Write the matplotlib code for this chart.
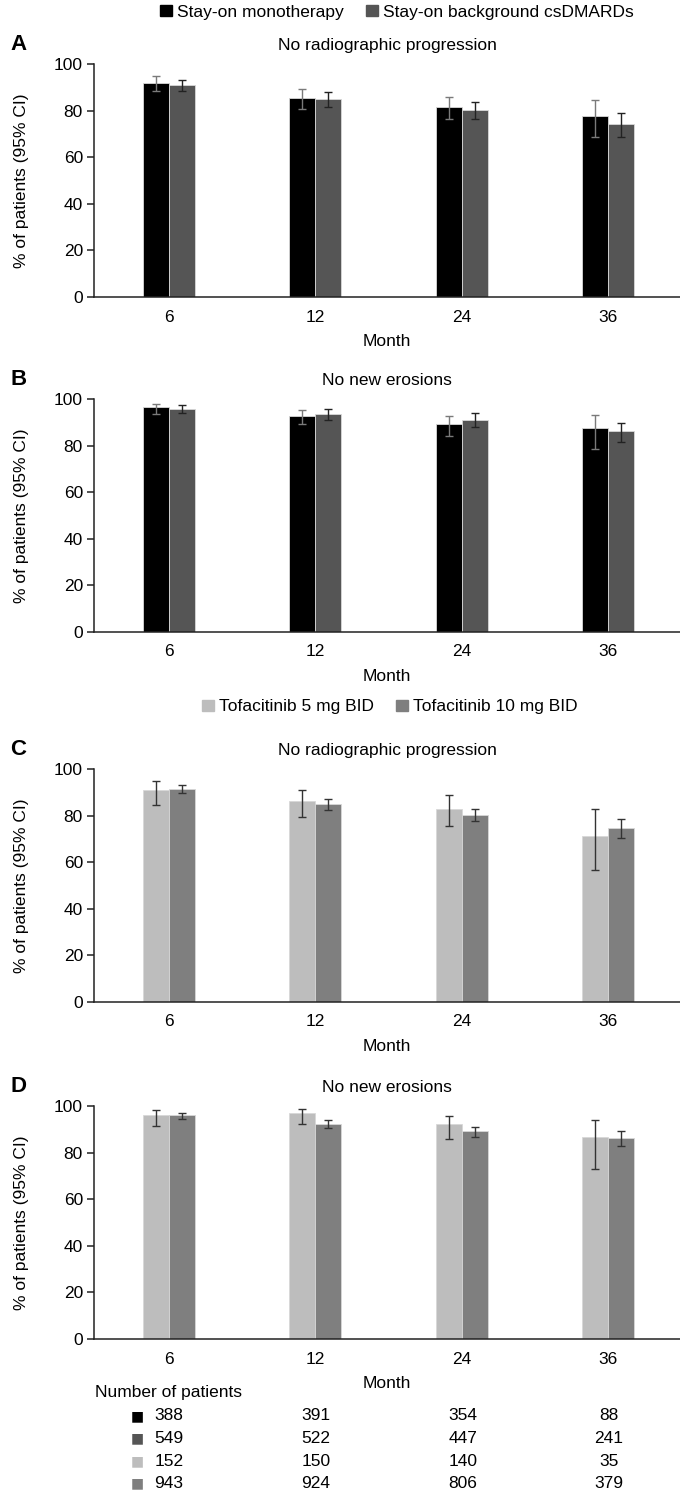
import numpy as np
import matplotlib
matplotlib.use('Agg')
import matplotlib.pyplot as plt
from matplotlib.patches import Patch

plt.rcParams['font.family'] = ['Liberation Sans', 'DejaVu Sans']

months = ['6', '12', '24', '36']

# panel A - no radiographic progression, stay-on groups
a_mono = [91.7, 85.2, 81.5, 77.8]
a_mono_lo = [88.4, 80.7, 76.3, 68.8]
a_mono_hi = [94.8, 89.1, 85.8, 84.5]
a_bg = [91.1, 85.1, 80.1, 74.4]
a_bg_lo = [88.4, 81.4, 76.3, 68.8]
a_bg_hi = [93.3, 88.1, 83.8, 79.1]

# panel B - no new erosions, stay-on groups
b_mono = [96.4, 92.7, 89.1, 87.5]
b_mono_lo = [93.7, 89.1, 84.3, 78.7]
b_mono_hi = [98.0, 95.3, 92.7, 93.0]
b_bg = [95.8, 93.5, 91.1, 86.2]
b_bg_lo = [94.0, 91.1, 88.1, 81.6]
b_bg_hi = [97.4, 95.7, 93.8, 89.8]

# panel C - no radiographic progression, dose groups
c_5 = [90.9, 86.3, 83.0, 71.4]
c_5_lo = [84.7, 79.4, 75.7, 56.5]
c_5_hi = [94.7, 91.2, 88.9, 83.0]
c_10 = [91.4, 84.9, 80.3, 74.7]
c_10_lo = [89.6, 82.3, 77.6, 70.5]
c_10_hi = [93.1, 87.3, 82.9, 78.4]

# panel D - no new erosions, dose groups
d_5 = [96.0, 96.8, 92.1, 86.8]
d_5_lo = [91.5, 92.4, 85.9, 73.1]
d_5_hi = [98.3, 98.8, 95.7, 94.2]
d_10 = [96.0, 92.4, 89.1, 86.2]
d_10_lo = [94.5, 90.5, 86.5, 82.9]
d_10_hi = [97.1, 94.1, 91.2, 89.1]

n_mono = [388, 391, 354, 88]
n_bg = [549, 522, 447, 241]
n_5 = [152, 150, 140, 35]
n_10 = [943, 924, 806, 379]

c_black = '#000000'
c_dark = '#555555'
c_light = '#bdbdbd'
c_mid = '#7f7f7f'

FS = 12.5

W, H = 680, 1490
fig = plt.figure(figsize=(W / 100, H / 100), dpi=100)

def px_axes(left, top, right, bottom):
    return fig.add_axes([left / W, 1 - bottom / H, (right - left) / W, (bottom - top) / H])

x = np.arange(len(months))
bw = 0.178

def panel(ax, letter, title, v1, lo1, hi1, col1, ecol1, v2, lo2, hi2, col2, ecol2):
    e1 = [np.array(v1) - np.array(lo1), np.array(hi1) - np.array(v1)]
    e2 = [np.array(v2) - np.array(lo2), np.array(hi2) - np.array(v2)]
    ax.bar(x - bw / 2, v1, bw, color=col1, edgecolor='#d8d8d8', linewidth=0.6)
    ax.bar(x + bw / 2, v2, bw, color=col2, edgecolor='#d8d8d8', linewidth=0.6)
    ax.errorbar(x - bw / 2, v1, yerr=e1, fmt='none', ecolor=ecol1, elinewidth=1.0,
                capsize=3, capthick=1.0, clip_on=False)
    ax.errorbar(x + bw / 2, v2, yerr=e2, fmt='none', ecolor=ecol2, elinewidth=1.0,
                capsize=3, capthick=1.0, clip_on=False)
    ax.set_xlim(-0.512, 3.49)
    ax.set_ylim(0, 100)
    ax.set_yticks([0, 20, 40, 60, 80, 100])
    ax.set_xticks(x)
    ax.set_xticklabels(months)
    ax.spines['top'].set_visible(False)
    ax.spines['right'].set_visible(False)
    for s in ['left', 'bottom']:
        ax.spines[s].set_linewidth(1.1)
        ax.spines[s].set_color('#222222')
    ax.tick_params(axis='y', length=5, width=1.1, color='#222222', labelsize=FS, pad=3)
    ax.tick_params(axis='x', length=0, labelsize=FS, pad=9)
    ax.set_xlabel('Month', fontsize=FS, labelpad=7)
    ax.set_ylabel('% of patients (95% CI)', fontsize=FS, labelpad=18)
    ax.set_title(title, fontsize=FS, pad=10)
    ax.text(-0.143, 1.085, letter, transform=ax.transAxes, fontsize=16,
            fontweight='bold', va='center', ha='left')

axA = px_axes(94, 64, 680, 297)
panel(axA, 'A', 'No radiographic progression', a_mono, a_mono_lo, a_mono_hi, c_black, '#7a7a7a',
      a_bg, a_bg_lo, a_bg_hi, c_dark, '#222222')
axB = px_axes(94, 399, 680, 632)
panel(axB, 'B', 'No new erosions', b_mono, b_mono_lo, b_mono_hi, c_black, '#7a7a7a',
      b_bg, b_bg_lo, b_bg_hi, c_dark, '#222222')
axC = px_axes(94, 769, 680, 1002)
panel(axC, 'C', 'No radiographic progression', c_5, c_5_lo, c_5_hi, c_light, '#333333',
      c_10, c_10_lo, c_10_hi, c_mid, '#333333')
axD = px_axes(94, 1106, 680, 1339)
panel(axD, 'D', 'No new erosions', d_5, d_5_lo, d_5_hi, c_light, '#333333',
      d_10, d_10_lo, d_10_hi, c_mid, '#333333')

leg_kw = dict(ncol=2, frameon=False, fontsize=FS, handlelength=0.65, handleheight=0.65,
              handletextpad=0.3, columnspacing=1.3, loc='center')
fig.legend([Patch(color=c_black), Patch(color=c_dark)],
           ['Stay-on monotherapy', 'Stay-on background csDMARDs'],
           bbox_to_anchor=(397 / W, 1 - 12 / H), **leg_kw)
fig.legend([Patch(color=c_light), Patch(color=c_mid)],
           ['Tofacitinib 5 mg BID', 'Tofacitinib 10 mg BID'],
           bbox_to_anchor=(390 / W, 1 - 707 / H), **leg_kw)

# number of patients table
fig.text(95 / W, 1 - 1392 / H, 'Number of patients', fontsize=FS, va='center', ha='left')
centers_px = [169, 316, 462.7, 609]
rows = [(n_mono, c_black), (n_bg, c_dark), (n_5, c_light), (n_10, c_mid)]
for i, (vals, col) in enumerate(rows):
    yy = 1 - (1416 + i * 22.5) / H
    fig.text(137 / W, yy, '\u25a0', color=col, fontsize=10, va='center', ha='center',
             family='DejaVu Sans')
    for j, v in enumerate(vals):
        fig.text(centers_px[j] / W, yy, str(v), fontsize=FS, va='center', ha='center')

fig.savefig('out.png', dpi=100)
